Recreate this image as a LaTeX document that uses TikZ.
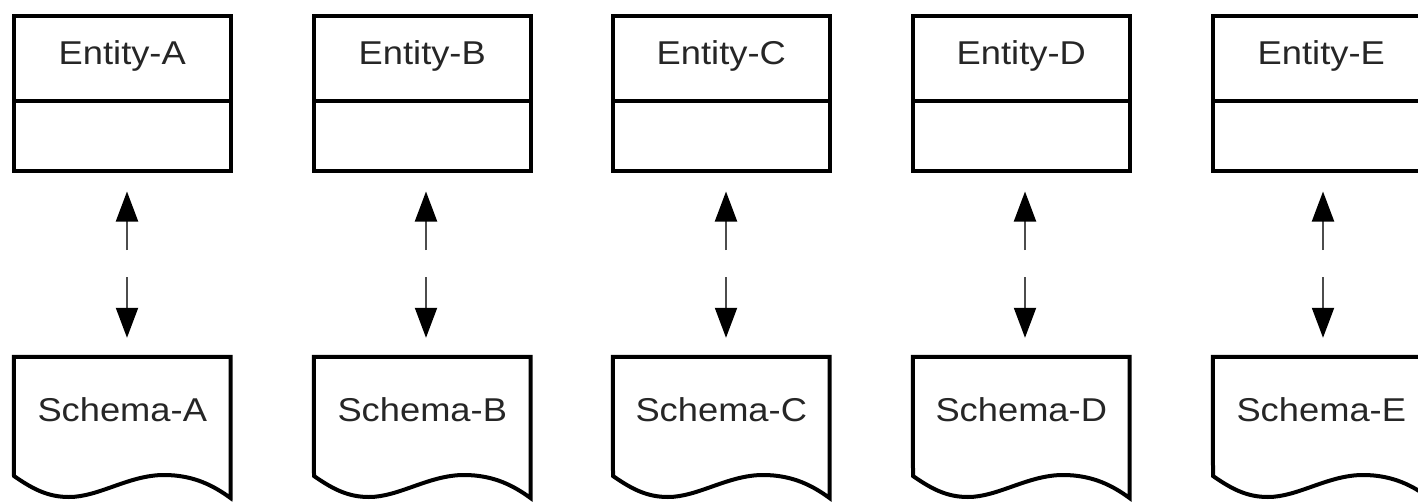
\documentclass[tikz,border=0pt]{standalone}
\usepackage{fontspec}
\setmainfont{Liberation Sans}
\newfontfamily\labfont[FakeStretch=1.1]{Liberation Sans}
\usetikzlibrary{arrows.meta,calc}
\tikzset{
  boxline/.style={line width=4pt, draw=black, line join=miter},
  entbox/.style={boxline, rectangle, minimum width=216.5pt, minimum height=154.5pt, inner sep=0pt},
  labtext/.style={font=\labfont\fontsize{33}{36}\selectfont, text=black!85, inner sep=0pt},
  anchorbox/.style={rectangle, draw=none, minimum width=216.5pt, minimum height=119pt, inner sep=0pt},
  biarrow/.style={line width=2pt, draw=black!70, -{Triangle[width=22pt,length=30pt,color=black,fill=black]}, shorten >=19pt},
}
\begin{document}
\begin{tikzpicture}[x=1pt,y=-1pt]
\useasboundingbox (0,0) rectangle (1418,503);
\clip (0,0) rectangle (1418,503);
\fill[white] (0,0) rectangle (1418,503);
\foreach \L/\x/\ax in {A/14/127, B/314/426, C/613/726, D/913/1025, E/1213/1323}{
  % entity box
  \node[entbox] (e\L) at (\x+108.25, 93.25) {};
  \draw[boxline] (e\L.west |- 0,101) -- (e\L.east |- 0,101);
  \node[labtext] (t\L) at (\x+108.25, 56) {Entity-\L};
  % schema document shape
  \node[anchorbox] (s\L) at (\x+108.25, 416.5) {};
  \draw[boxline] (s\L.north east) -- (s\L.north west) -- (\x,476)
     .. controls (\x+20,490) and (\x+35,497) .. (\x+55,497)
     .. controls (\x+85,497) and (\x+115,475) .. (\x+150,475)
     .. controls (\x+180,475) and (\x+200,486) .. (\x+216.5,498)
     -- cycle;
  \node[labtext] (l\L) at (\x+108.25, 410) {Schema-\L};
  % connector
  \coordinate (u\L) at (\ax, 250);
  \coordinate (d\L) at (\ax, 277);
  \draw[biarrow] (u\L) -- (u\L |- e\L.south);
  \draw[biarrow] (d\L) -- (d\L |- s\L.north);
}
\end{tikzpicture}
\end{document}
